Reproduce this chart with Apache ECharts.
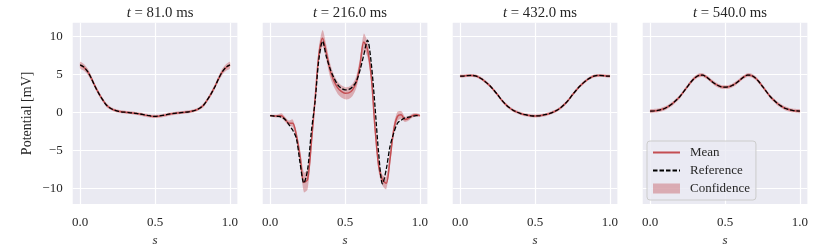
<!DOCTYPE html>
<html><head><meta charset="utf-8">
<script src="https://cdn.jsdelivr.net/npm/echarts@6/dist/echarts.min.js"></script>
<style>html,body{margin:0;padding:0;background:#fff}#c{width:830px;height:249px}</style>
</head><body><div id="c"></div>
<script>
// ---- data ----
const sValues = [0,0.025,0.05,0.075,0.1,0.125,0.15,0.175,0.2,0.225,0.25,0.275,0.3,0.325,0.35,0.375,0.4,0.425,0.45,0.475,0.5,0.525,0.55,0.575,0.6,0.625,0.65,0.675,0.7,0.725,0.75,0.775,0.8,0.825,0.85,0.875,0.9,0.925,0.95,0.975,1];
const panelTimes = ['81.0','216.0','432.0','540.0'];
const yTickValues = [-10,-5,0,5,10];
const xTickValues = [0,0.5,1];
const legendNames = ['Mean','Reference','Confidence'];

const ref81  = [6.3,6.0,5.4,4.5,3.4,2.5,1.7,1.0,0.6,0.35,0.2,0.1,0.05,0.0,-0.05,-0.1,-0.18,-0.28,-0.38,-0.46,-0.5,-0.46,-0.38,-0.28,-0.18,-0.1,-0.05,0.0,0.05,0.1,0.2,0.35,0.6,1.0,1.7,2.5,3.4,4.5,5.4,6.0,6.3];
const mean81 = [6.25,5.95,5.4,4.5,3.45,2.5,1.7,1.0,0.6,0.35,0.2,0.1,0.05,0.0,-0.05,-0.12,-0.2,-0.3,-0.4,-0.47,-0.5,-0.47,-0.4,-0.3,-0.2,-0.12,-0.05,0.0,0.05,0.1,0.2,0.35,0.6,1.0,1.7,2.5,3.45,4.5,5.4,5.95,6.25];
const ci81   = [0.45,0.45,0.4,0.35,0.3,0.3,0.25,0.25,0.2,0.2,0.2,0.2,0.2,0.2,0.2,0.2,0.2,0.2,0.2,0.2,0.2,0.2,0.2,0.2,0.2,0.2,0.2,0.2,0.2,0.2,0.2,0.2,0.2,0.25,0.25,0.3,0.3,0.35,0.4,0.45,0.45];

const ref216  = [-0.4,-0.45,-0.5,-0.6,-0.9,-1.6,-2.3,-3.4,-6.7,-9.3,-7.5,-2.5,1.5,7.0,9.4,7.4,5.8,4.6,3.7,3.2,3.0,3.05,3.4,4.1,5.6,7.6,9.55,6.5,0.8,-5.5,-9.4,-7.5,-4.5,-2.7,-1.4,-1.0,-0.7,-0.6,-0.5,-0.4,-0.4];
const mean216 = [-0.4,-0.45,-0.45,-0.4,-0.9,-1.4,-1.4,-3.0,-5.8,-9.2,-8.8,-4.0,1.8,7.6,9.8,7.9,5.6,4.2,3.3,2.8,2.55,2.6,3.0,4.0,6.3,9.3,8.3,4.8,-2.0,-7.1,-8.9,-9.3,-6.2,-2.3,-0.5,-0.3,-0.9,-0.75,-0.4,-0.3,-0.4];
const ci216   = [0.15,0.15,0.2,0.3,0.3,0.35,0.5,0.6,0.9,1.3,1.3,0.9,0.8,1.0,1.1,1.0,0.9,0.8,0.8,0.8,0.8,0.8,0.8,0.8,0.9,1.1,1.0,0.9,0.8,0.8,0.7,0.8,0.8,0.7,0.6,0.5,0.35,0.3,0.25,0.2,0.15];

const ref432  = [4.8,4.82,4.88,4.9,4.85,4.65,4.35,3.95,3.5,2.95,2.35,1.7,1.15,0.7,0.35,0.1,-0.1,-0.25,-0.35,-0.42,-0.45,-0.42,-0.35,-0.25,-0.1,0.1,0.35,0.7,1.15,1.7,2.35,2.95,3.5,3.95,4.35,4.65,4.85,4.9,4.88,4.82,4.8];
const mean432 = [4.8,4.83,4.88,4.9,4.85,4.65,4.35,3.95,3.5,2.95,2.35,1.7,1.15,0.7,0.35,0.1,-0.1,-0.25,-0.35,-0.42,-0.45,-0.42,-0.35,-0.25,-0.1,0.1,0.35,0.7,1.15,1.7,2.35,2.95,3.5,3.95,4.35,4.65,4.85,4.9,4.88,4.83,4.8];
const ci432   = [0.2,0.2,0.2,0.2,0.2,0.2,0.2,0.2,0.2,0.2,0.2,0.2,0.2,0.2,0.2,0.2,0.2,0.2,0.2,0.2,0.2,0.2,0.2,0.2,0.2,0.2,0.2,0.2,0.2,0.2,0.2,0.2,0.2,0.2,0.2,0.2,0.2,0.2,0.2,0.2,0.2];

const ref540  = [0.2,0.22,0.28,0.4,0.57,0.85,1.2,1.65,2.15,2.8,3.45,4.1,4.6,4.9,4.95,4.7,4.3,3.9,3.6,3.4,3.35,3.4,3.6,3.9,4.3,4.7,4.95,4.9,4.6,4.1,3.45,2.8,2.15,1.65,1.2,0.85,0.57,0.4,0.28,0.22,0.2];
const mean540 = [0.2,0.22,0.28,0.4,0.57,0.85,1.2,1.65,2.15,2.8,3.45,4.1,4.6,4.9,4.95,4.7,4.3,3.9,3.6,3.4,3.35,3.4,3.6,3.9,4.3,4.7,4.95,4.9,4.6,4.1,3.45,2.8,2.15,1.65,1.2,0.85,0.57,0.4,0.28,0.22,0.2];
const ci540   = [0.25,0.25,0.25,0.25,0.25,0.25,0.25,0.25,0.25,0.25,0.25,0.25,0.25,0.25,0.25,0.25,0.25,0.25,0.25,0.25,0.25,0.25,0.25,0.25,0.25,0.25,0.25,0.25,0.25,0.25,0.25,0.25,0.25,0.25,0.25,0.25,0.25,0.25,0.25,0.25,0.25];

const panels = [
  {t: panelTimes[0], mean: mean81,  ref: ref81,  ci: ci81},
  {t: panelTimes[1], mean: mean216, ref: ref216, ci: ci216},
  {t: panelTimes[2], mean: mean432, ref: ref432, ci: ci432},
  {t: panelTimes[3], mean: mean540, ref: ref540, ci: ci540}
];

// ---- layout / style ----
const FONT = '"Liberation Serif", "DejaVu Serif", serif';
const TXT = '#262626';
const BG = '#EAEAF2';
const RED = '#C44E52';
const BAND = 'rgba(196,78,82,0.4)';
const gridLeft = [72.7, 262.7, 452.7, 642.7];
const gridW = 164.7, gridTop = 22.7, gridH = 181.3;

const grids = [], xAxes = [], yAxes = [], titles = [], series = [];
panels.forEach((p, i) => {
  grids.push({left: gridLeft[i], top: gridTop, width: gridW, height: gridH,
    show: true, backgroundColor: BG, borderWidth: 0, containLabel: false, outerBoundsMode: 'none'});
  titles.push({
    text: '{i|t} = ' + p.t + ' ms',
    left: gridLeft[i] + gridW / 2, top: 1, textAlign: 'center',
    textStyle: {fontFamily: FONT, fontSize: 14.8, fontWeight: 'normal', color: TXT,
      rich: {i: {fontFamily: FONT, fontSize: 14.8, fontStyle: 'italic', color: TXT}}}
  });
  xAxes.push({type: 'value', gridIndex: i, min: -0.05, max: 1.05,
    name: 's', nameLocation: 'middle', nameGap: 29,
    nameTextStyle: {fontFamily: FONT, fontSize: 13, fontStyle: 'italic', color: TXT},
    axisLine: {show: false},
    axisTick: {show: false, customValues: xTickValues},
    axisLabel: {customValues: xTickValues, margin: 12.5, fontFamily: FONT, fontSize: 13, color: TXT,
      formatter: v => v.toFixed(1)},
    splitLine: {show: true, lineStyle: {color: '#ffffff', width: 1.2}}
  });
  yAxes.push({type: 'value', gridIndex: i, min: -12.05, max: 11.85,
    name: i === 0 ? 'Potential [mV]' : '', nameLocation: 'middle', nameGap: 38.5,
    nameTextStyle: {fontFamily: FONT, fontSize: 14, color: TXT},
    axisLine: {show: false},
    axisTick: {show: false, customValues: yTickValues},
    axisLabel: {show: i === 0, customValues: yTickValues, margin: 10, fontFamily: FONT, fontSize: 13, color: TXT,
      formatter: v => (v < 0 ? '\u2212' + Math.abs(v) : String(v))},
    splitLine: {show: true, lineStyle: {color: '#ffffff', width: 1.2}}
  });
  const lower = sValues.map((x, k) => p.mean[k] - p.ci[k]);
  const upper = sValues.map((x, k) => p.mean[k] + p.ci[k]);
  series.push({
    name: 'Confidence', type: 'custom', xAxisIndex: i, yAxisIndex: i, silent: true, z: 1,
    itemStyle: {color: BAND},
    data: sValues.map((x, k) => [x, lower[k], upper[k]]),
    encode: {x: 0, y: [1, 2]},
    renderItem: (params, api) => {
      if (params.dataIndex !== 0) return null;
      const up = [], lo = [];
      for (let k = 0; k < sValues.length; k++) {
        up.push(api.coord([sValues[k], upper[k]]));
        lo.push(api.coord([sValues[k], lower[k]]));
      }
      return {type: 'polygon', shape: {points: up.concat(lo.reverse()), smooth: 0.25},
        style: {fill: BAND, stroke: null}};
    }
  });
  series.push({
    name: 'Mean', type: 'line', xAxisIndex: i, yAxisIndex: i,
    data: sValues.map((x, k) => [x, p.mean[k]]),
    symbol: 'none', smooth: 0.3, itemStyle: {color: RED},
    lineStyle: {color: RED, width: 1.5}, z: 2
  });
  series.push({
    name: 'Reference', type: 'line', xAxisIndex: i, yAxisIndex: i,
    data: sValues.map((x, k) => [x, p.ref[k]]),
    symbol: 'none', smooth: 0.3, itemStyle: {color: '#000000'},
    lineStyle: {color: '#000000', width: 1.3, type: [4.5, 2]}, z: 3
  });
});

const chart = echarts.init(document.getElementById('c'), null, {renderer: 'canvas'});
chart.setOption({
  backgroundColor: '#ffffff',
  animation: false,
  title: titles,
  grid: grids,
  xAxis: xAxes,
  yAxis: yAxes,
  legend: {
    data: [
      {name: legendNames[0], itemStyle: {opacity: 0}},
      {name: legendNames[1], itemStyle: {opacity: 0}},
      {name: legendNames[2], icon: 'rect', itemStyle: {color: BAND}}
    ],
    orient: 'vertical', left: 647, top: 141,
    itemWidth: 27, itemHeight: 10, itemGap: 5,
    padding: [5, 6, 5, 5],
    backgroundColor: 'rgba(234,234,242,0.8)', borderColor: '#cccccc', borderWidth: 1, borderRadius: 3,
    textStyle: {fontFamily: FONT, fontSize: 13, color: TXT, padding: [0, 0, 0, 5]},
    selectedMode: false
  },
  series: series
});
</script>
</body></html>
